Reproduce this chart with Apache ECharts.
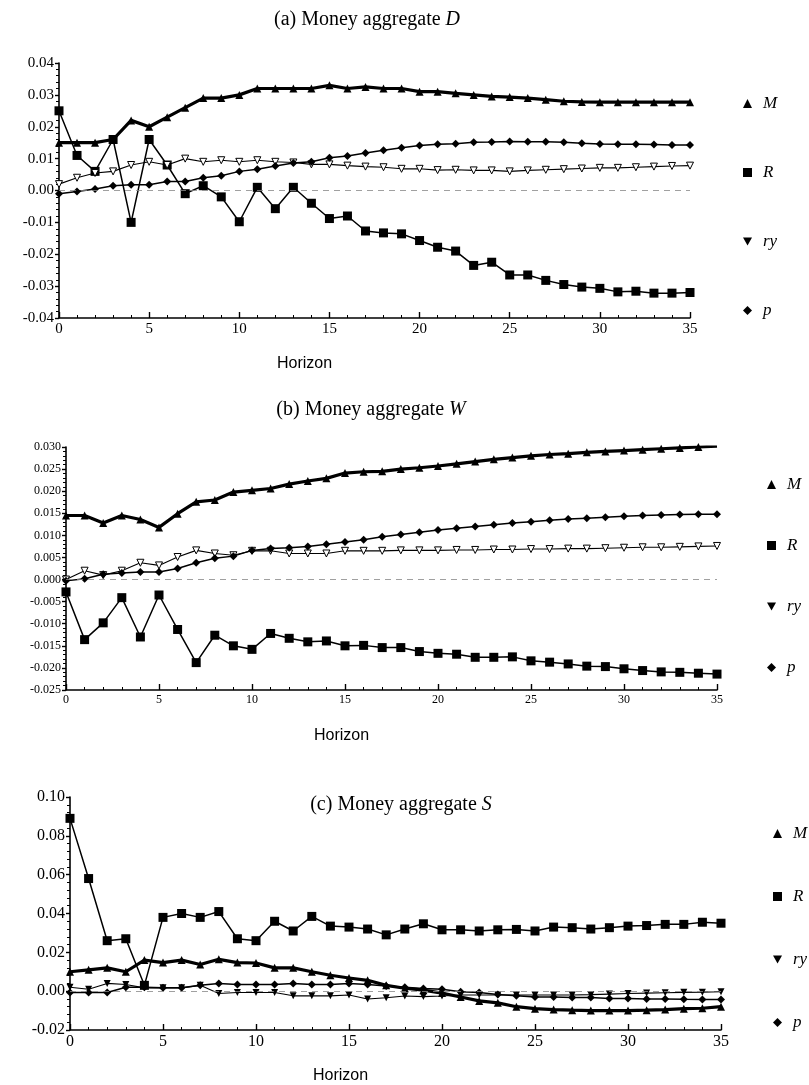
<!DOCTYPE html>
<html>
<head>
  <meta charset="utf-8">
  <title>Money aggregates - impulse responses</title>
  <script src="https://cdn.jsdelivr.net/npm/echarts@6/dist/echarts.min.js"></script>
  <style>
    html, body { margin: 0; padding: 0; background: #fff; }
    #main { width: 809px; height: 1085px; }
  </style>
</head>
<body>
<div id="main"></div>
<script>
// horizon (x values)
var horizon = [0,1,2,3,4,5,6,7,8,9,10,11,12,13,14,15,16,17,18,19,20,21,22,23,24,25,26,27,28,29,30,31,32,33,34,35];

// (a) Money aggregate D
var dM  = [0.015,0.015,0.015,0.016,0.022,0.020,0.023,0.026,0.029,0.029,0.030,0.032,0.032,0.032,0.032,0.033,0.032,0.0325,0.032,0.032,0.031,0.031,0.0305,0.030,0.0295,0.0293,0.029,0.0285,0.028,0.0278,0.0277,0.0277,0.0277,0.0277,0.0277,0.0277];
var dR  = [0.025,0.011,0.006,0.016,-0.010,0.016,0.008,-0.001,0.0015,-0.002,-0.0098,0.001,-0.0057,0.001,-0.004,-0.0088,-0.008,-0.0127,-0.0133,-0.0136,-0.0157,-0.0178,-0.019,-0.0235,-0.0225,-0.0265,-0.0265,-0.0282,-0.0295,-0.0303,-0.0307,-0.0318,-0.0316,-0.0322,-0.0322,-0.032];
var dRy = [0.002,0.004,0.0055,0.006,0.008,0.009,0.008,0.010,0.009,0.0095,0.009,0.0095,0.009,0.0088,0.0082,0.0082,0.0078,0.0075,0.0073,0.0068,0.0068,0.0064,0.0065,0.0063,0.0063,0.006,0.0063,0.0065,0.0067,0.0069,0.0071,0.0071,0.0073,0.0075,0.0077,0.0078];
var dP  = [-0.001,-0.0003,0.0005,0.0015,0.0018,0.0018,0.0028,0.0028,0.004,0.0046,0.006,0.0067,0.0077,0.0086,0.009,0.0103,0.0108,0.0118,0.0126,0.0134,0.0141,0.0145,0.0147,0.0151,0.0152,0.0154,0.0153,0.0153,0.0151,0.0148,0.0146,0.0145,0.0145,0.0144,0.0143,0.0143];

// (b) Money aggregate W
var wM  = [0.0145,0.0145,0.0128,0.0145,0.0136,0.0118,0.0149,0.0176,0.018,0.0198,0.0202,0.0206,0.0216,0.0223,0.0229,0.0241,0.0244,0.0245,0.025,0.0253,0.0257,0.0262,0.0267,0.0272,0.0276,0.028,0.0283,0.0285,0.0288,0.029,0.0292,0.0294,0.0296,0.0298,0.030,0.0302];
var wR  = [-0.0028,-0.0136,-0.0098,-0.0041,-0.013,-0.0035,-0.0113,-0.0188,-0.0126,-0.015,-0.0158,-0.0122,-0.0133,-0.0141,-0.0139,-0.015,-0.0149,-0.0154,-0.0154,-0.0163,-0.0167,-0.0169,-0.0176,-0.0176,-0.0175,-0.0184,-0.0187,-0.0191,-0.0196,-0.0197,-0.0202,-0.0206,-0.0209,-0.021,-0.0212,-0.0214];
var wRy = [0.000,0.002,0.001,0.002,0.0038,0.0032,0.0051,0.0066,0.0059,0.0055,0.0065,0.0065,0.0059,0.0059,0.0059,0.0065,0.0065,0.0065,0.0066,0.0066,0.0066,0.0067,0.0067,0.0068,0.0068,0.0069,0.0069,0.007,0.007,0.0071,0.0072,0.0073,0.0073,0.0074,0.0075,0.0076];
var wP  = [-0.0003,0.0002,0.0012,0.0015,0.0017,0.0017,0.0025,0.0038,0.0048,0.0053,0.0066,0.007,0.0072,0.0075,0.008,0.0085,0.009,0.0097,0.0102,0.0107,0.0112,0.0116,0.012,0.0124,0.0128,0.0131,0.0134,0.0137,0.0139,0.0141,0.0143,0.0145,0.0146,0.0147,0.0148,0.0148];

// (c) Money aggregate S
var sM  = [0.010,0.011,0.012,0.010,0.016,0.0147,0.016,0.0137,0.0164,0.0147,0.0145,0.012,0.012,0.010,0.0082,0.0068,0.0056,0.003,0.0015,0.0005,-0.001,-0.003,-0.005,-0.006,-0.008,-0.009,-0.0095,-0.0098,-0.010,-0.010,-0.010,-0.0098,-0.0095,-0.009,-0.0088,-0.008];
var sR  = [0.089,0.058,0.026,0.027,0.003,0.038,0.040,0.038,0.041,0.027,0.026,0.036,0.031,0.0385,0.0335,0.033,0.032,0.029,0.032,0.0347,0.0316,0.0316,0.031,0.0316,0.0318,0.031,0.033,0.0327,0.032,0.0327,0.0335,0.0338,0.0344,0.0344,0.0355,0.035];
var sRy = [0.002,0.001,0.004,0.0034,0.0017,0.0017,0.0017,0.003,-0.0012,-0.0007,-0.0007,-0.0007,-0.0024,-0.0024,-0.0024,-0.002,-0.004,-0.0034,-0.0025,-0.0028,-0.0025,-0.002,-0.002,-0.002,-0.002,-0.002,-0.002,-0.002,-0.0018,-0.0015,-0.0012,-0.001,-0.0008,-0.0006,-0.0005,-0.0003];
var sP  = [-0.0007,-0.0007,-0.0007,0.002,0.002,0.0017,0.0017,0.003,0.004,0.0034,0.0034,0.0034,0.004,0.0034,0.0034,0.004,0.0034,0.0027,0.002,0.0014,0.001,-0.0003,-0.0007,-0.0017,-0.0024,-0.003,-0.003,-0.0032,-0.0033,-0.0038,-0.0038,-0.004,-0.004,-0.0042,-0.0043,-0.0043];

var names = ['M', 'R', 'ry', 'p'];
var triDown = 'path://M0,0 L10,0 L5,9 Z';
var serif = 'Liberation Serif';

function pairs(vals) {
  return vals.map(function (v, i) { return [horizon[i], v]; });
}

// one line series; ry has open markers in panels a and b
function line(name, vals, idx, openRy) {
  var s = {
    name: name, type: 'line', xAxisIndex: idx, yAxisIndex: idx,
    data: pairs(vals), silent: true, animation: false,
    color: '#000',
    lineStyle: { color: '#000', width: 1.5 },
    itemStyle: { color: '#000' }
  };
  if (name === 'M') { s.symbol = 'triangle'; s.symbolSize = 8; s.lineStyle.width = 3.2; }
  if (name === 'R') { s.symbol = 'rect'; s.symbolSize = 9; }
  if (name === 'ry') {
    s.symbol = triDown; s.symbolSize = 7; s.lineStyle.width = 1.1;
    if (openRy) s.itemStyle = { color: '#fff', borderColor: '#000', borderWidth: 1 };
  }
  if (name === 'p') { s.symbol = 'diamond'; s.symbolSize = 8; }
  return s;
}

function zeroLine(idx) {
  return {
    type: 'line', xAxisIndex: idx, yAxisIndex: idx, data: [], silent: true,
    markLine: {
      silent: true, symbol: 'none', animation: false,
      label: { show: false },
      lineStyle: { color: '#888', type: [6, 5], width: 0.8 },
      data: [{ yAxis: 0 }]
    }
  };
}

function fmt(d) {
  return function (v) { if (Math.abs(v) < 1e-9) v = 0; return v.toFixed(d); };
}

function xAxis(idx, size, padRight) {
  return {
    type: 'value', gridIndex: idx, min: 0, max: 35, interval: 5,
    name: 'Horizon', nameLocation: 'middle', nameGap: 38,
    nameTextStyle: { fontFamily: 'Liberation Sans', fontSize: 16, color: '#000', padding: [0, padRight, 0, 0] },
    axisLine: { onZero: false, lineStyle: { color: '#000', width: 1.6 } },
    axisTick: { inside: true, length: 6, lineStyle: { color: '#000', width: 1.4 } },
    minorTick: { show: true, splitNumber: 5, length: 3, lineStyle: { color: '#000' } },
    axisLabel: { fontFamily: serif, fontSize: size, color: '#000', margin: 4 },
    splitLine: { show: false }
  };
}

function yAxis(idx, min, max, step, dec, size) {
  return {
    type: 'value', gridIndex: idx, min: min, max: max, interval: step,
    axisLine: { show: true, lineStyle: { color: '#000', width: 1.6 } },
    axisTick: { show: true, inside: false, length: 4, lineStyle: { color: '#000', width: 1.4 } },
    minorTick: { show: true, splitNumber: 5, length: 3, lineStyle: { color: '#000' } },
    axisLabel: { fontFamily: serif, fontSize: size, color: '#000', margin: 5, formatter: fmt(dec) },
    splitLine: { show: false }
  };
}

function legend(left, top, gap) {
  var icons = { M: 'triangle', R: 'rect', ry: triDown, p: 'diamond' };
  return {
    orient: 'vertical', left: left, top: top, itemGap: gap,
    itemWidth: 9, itemHeight: 9, selectedMode: false,
    textStyle: { fontFamily: serif, fontStyle: 'italic', fontSize: 17, color: '#000', padding: [0, 0, 0, 6] },
    data: names.map(function (n) {
      return { name: n, icon: icons[n], itemStyle: { color: '#000', borderWidth: 0 } };
    })
  };
}

function title(text, letter, x, y) {
  return {
    text: text + '{i|' + letter + '}', left: x, top: y, textAlign: 'center',
    textStyle: {
      fontFamily: serif, fontWeight: 'normal', fontSize: 20, color: '#000',
      rich: { i: { fontFamily: serif, fontStyle: 'italic', fontSize: 20, color: '#000' } }
    }
  };
}

var chart = echarts.init(document.getElementById('main'));

var series = [
  zeroLine(0),
  line('M', dM, 0), line('R', dR, 0), line('ry', dRy, 0, true), line('p', dP, 0),
  zeroLine(1),
  line('M', wM, 1), line('R', wR, 1), line('ry', wRy, 1, true), line('p', wP, 1),
  zeroLine(2),
  line('M', sM, 2), line('R', sR, 2), line('ry', sRy, 2), line('p', sP, 2)
];

chart.setOption({
  backgroundColor: '#fff',
  animation: false,
  title: [
    title('(a) Money aggregate ', 'D', 362, 5),
    title('(b) Money aggregate ', 'W', 366, 395),
    title('(c) Money aggregate ', 'S', 396, 790)
  ],
  legend: [
    legend(738, 90, 52),
    legend(762, 471, 44),
    legend(768, 820, 46)
  ],
  grid: [
    { left: 59, top: 63, width: 631, height: 255 },
    { left: 66, top: 447, width: 651, height: 243 },
    { left: 70, top: 797, width: 651, height: 233 }
  ],
  xAxis: [xAxis(0, 15, 140), xAxis(1, 12, 100), xAxis(2, 16, 110)],
  yAxis: [
    yAxis(0, -0.04, 0.04, 0.01, 2, 15),
    yAxis(1, -0.025, 0.03, 0.005, 3, 12),
    yAxis(2, -0.02, 0.1, 0.02, 2, 16)
  ],
  series: series
});
</script>
</body>
</html>
